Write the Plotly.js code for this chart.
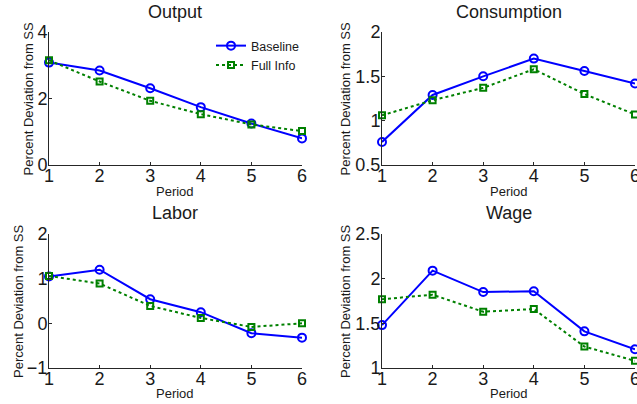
<!DOCTYPE html>
<html>
<head>
<meta charset="utf-8">
<script src="https://cdn.plot.ly/plotly-3.0.1.min.js"></script>
<style>html,body{margin:0;padding:0;background:#fff;}#chart{width:637px;height:404px;}</style>
</head>
<body>
<div id="chart"></div>
<script>
const periods = [1, 2, 3, 4, 5, 6];
const panelTitles = ["Output", "Consumption", "Labor", "Wage"];
const seriesNames = ["Baseline", "Full Info"];

const outputBaseline = [3.08, 2.84, 2.31, 1.74, 1.25, 0.80];
const outputFullInfo = [3.15, 2.51, 1.93, 1.53, 1.22, 1.02];
const consBaseline = [0.76, 1.29, 1.50, 1.70, 1.56, 1.42];
const consFullInfo = [1.06, 1.23, 1.37, 1.58, 1.30, 1.07];
const laborBaseline = [1.05, 1.20, 0.54, 0.25, -0.22, -0.32];
const laborFullInfo = [1.06, 0.89, 0.39, 0.12, -0.08, 0.00];
const wageBaseline = [1.48, 2.09, 1.85, 1.86, 1.41, 1.21];
const wageFullInfo = [1.77, 1.82, 1.63, 1.66, 1.24, 1.08];

const yRanges = [[0, 4], [0.5, 2], [-1, 2], [1, 2.5]];
const yTicks = [[0, 2, 4], [0.5, 1, 1.5, 2], [-1, 0, 1, 2], [1, 1.5, 2, 2.5]];
const yTickText = [["0", "2", "4"], ["0.5", "1", "1.5", "2"], ["\u22121", "0", "1", "2"], ["1", "1.5", "2", "2.5"]];

const baseSeries = [outputBaseline, consBaseline, laborBaseline, wageBaseline];
const fullSeries = [outputFullInfo, consFullInfo, laborFullInfo, wageFullInfo];

const W = 637, H = 404;
const xDom = [[49 / W, 302 / W], [382 / W, 635 / W]];
const yDom = [[1 - 165 / H, 1 - 32 / H], [1 - 368 / H, 1 - 234 / H]];

const BLUE = "#0000ff", GREEN = "#008000";
const FONT = "'Liberation Sans', Arial, Helvetica, sans-serif";
const TXT = "#1a1a1a";

const traces = [];
const layout = {
  width: W, height: H,
  margin: {l: 0, r: 0, t: 0, b: 0},
  paper_bgcolor: "#ffffff", plot_bgcolor: "rgba(0,0,0,0)",
  font: {family: FONT, color: TXT, size: 18},
  showlegend: true,
  legend: {
    x: 304 / W, xanchor: "right", y: 1 - 31 / H, yanchor: "top",
    bgcolor: "rgba(0,0,0,0)", borderwidth: 0,
    font: {family: FONT, size: 12.5, color: TXT},
    tracegroupgap: 0, itemwidth: 30
  },
  annotations: []
};

for (let i = 0; i < 4; i++) {
  const col = i % 2, row = Math.floor(i / 2);
  const n = i + 1;
  const xa = "x" + (n === 1 ? "" : n), ya = "y" + (n === 1 ? "" : n);
  traces.push({
    x: periods, y: baseSeries[i], xaxis: xa, yaxis: ya,
    type: "scatter", mode: "lines+markers", name: seriesNames[0],
    showlegend: i === 0, legendgroup: "b", cliponaxis: false,
    line: {color: BLUE, width: 2},
    marker: {symbol: "circle-open", size: 8, color: BLUE, line: {width: 2, color: BLUE}}
  });
  traces.push({
    x: periods, y: fullSeries[i], xaxis: xa, yaxis: ya,
    type: "scatter", mode: "lines+markers", name: seriesNames[1],
    showlegend: i === 0, legendgroup: "f", cliponaxis: false,
    line: {color: GREEN, width: 2, dash: "3px,3px"},
    marker: {symbol: "square-open", size: 6, color: GREEN, line: {width: 2, color: GREEN}}
  });
  const axBase = {
    showgrid: false, zeroline: false, showline: true, linecolor: "#262626", linewidth: 1,
    ticks: "inside", ticklen: 3, tickcolor: "#262626", tickwidth: 1,
    tickfont: {family: FONT, size: 18, color: TXT}, mirror: false,
    ticklabeloverflow: "allow"
  };
  layout["xaxis" + (n === 1 ? "" : n)] = Object.assign({}, axBase, {
    domain: xDom[col], anchor: ya, range: [1, 6], tickvals: periods,
    ticktext: periods.map(String), fixedrange: true, ticklabelstandoff: -6
  });
  layout["yaxis" + (n === 1 ? "" : n)] = Object.assign({}, axBase, {
    domain: yDom[row], anchor: xa, range: yRanges[i], tickvals: yTicks[i],
    ticktext: yTickText[i], fixedrange: true, ticklabelstandoff: -3
  });
  const xc = (xDom[col][0] + xDom[col][1]) / 2;
  const top = yDom[row][1], bottom = yDom[row][0];
  layout.annotations.push({
    text: panelTitles[i], xref: "paper", yref: "paper", x: xc, y: 1 - (row === 0 ? 12 : 213) / H,
    xanchor: "center", yanchor: "middle", showarrow: false,
    font: {family: FONT, size: 18, color: TXT}
  });
  layout.annotations.push({
    text: "Period", xref: "paper", yref: "paper", x: xc, y: 1 - (row === 0 ? 191 : 393) / H,
    xanchor: "center", yanchor: "middle", showarrow: false,
    font: {family: FONT, size: 13, color: TXT}
  });
  const yTitleX = [[28, 345], [18, 345]][row][col];
  layout.annotations.push({
    text: "Percent Deviation from SS", xref: "paper", yref: "paper", x: yTitleX / W,
    y: (top + bottom) / 2, xanchor: "center", yanchor: "middle", textangle: -90, showarrow: false,
    font: {family: FONT, size: 13, color: TXT}
  });
}

Plotly.newPlot("chart", traces, layout, {staticPlot: true, displayModeBar: false});
</script>
</body>
</html>
